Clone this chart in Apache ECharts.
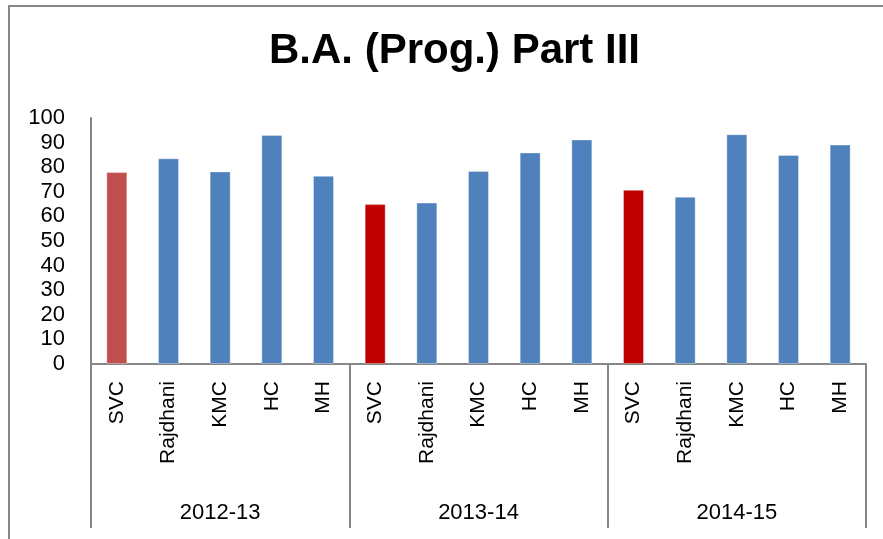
<!DOCTYPE html>
<html>
<head>
<meta charset="utf-8">
<script src="https://cdn.jsdelivr.net/npm/echarts@6/dist/echarts.min.js"></script>
<style>
  html, body { margin: 0; padding: 0; background: #fff; }
  #chart { width: 883px; height: 539px; }
</style>
</head>
<body>
<div id="chart"></div>
<script>
// academic years (group labels) and colleges (per-bar labels)
var years = ['2012-13', '2013-14', '2014-15'];
var colleges = ['SVC', 'Rajdhani', 'KMC', 'HC', 'MH'];

// pass percentage, one list per year
var values2012 = [78, 83.6, 78.3, 93.1, 76.5];
var values2013 = [65, 65.6, 78.5, 86, 91.3];
var values2014 = [70.8, 68, 93.4, 85, 89.2];

// y axis ticks
var yMin = 0;
var yMax = 100;
var yStep = 10;

var blue = '#4f81bd';
var svcColors = ['#c0504d', '#c00000', '#c00000'];

var categories = [];
var barData = [];
var allValues = [values2012, values2013, values2014];
for (var i = 0; i < years.length; i++) {
  for (var j = 0; j < colleges.length; j++) {
    categories.push(colleges[j]);
    barData.push({
      value: allValues[i][j],
      itemStyle: { color: j === 0 ? svcColors[i] : blue }
    });
  }
}

var chart = echarts.init(document.getElementById('chart'));
var axisGray = '#868686';
var font = '"Liberation Sans", Arial, sans-serif';

var option = {
  backgroundColor: '#fff',
  animation: false,
  title: {
    text: 'B.A. (Prog.) Part III',
    left: 264,
    top: 25,
    textStyle: {
      fontFamily: font,
      fontWeight: 'bold',
      fontSize: 42,
      color: '#000'
    }
  },
  graphic: [{
    type: 'rect',
    shape: { x: 9, y: 6, width: 900, height: 560 },
    style: { fill: 'none', stroke: axisGray, lineWidth: 2 },
    silent: true
  }],
  grid: {
    left: 91,
    right: 17,
    top: 118,
    bottom: 175
  },
  xAxis: [{
    type: 'category',
    data: categories,
    position: 'bottom',
    axisLine: { lineStyle: { color: axisGray, width: 2 } },
    axisTick: { show: false },
    axisLabel: {
      rotate: 90,
      margin: 17,
      color: '#000',
      fontFamily: font,
      fontSize: 21,
      interval: 0
    },
    splitLine: { show: false }
  }, {
    type: 'category',
    data: years,
    position: 'bottom',
    offset: 0,
    axisLine: { show: false },
    axisTick: {
      show: true,
      length: 164,
      lineStyle: { color: axisGray, width: 2 }
    },
    axisLabel: {
      margin: 138,
      color: '#000',
      fontFamily: font,
      fontSize: 22
    },
    splitLine: { show: false }
  }],
  yAxis: {
    type: 'value',
    min: yMin,
    max: yMax,
    interval: yStep,
    axisLine: { show: true, lineStyle: { color: axisGray, width: 2 } },
    axisTick: { show: false },
    axisLabel: {
      margin: 26,
      color: '#000',
      fontFamily: font,
      fontSize: 22
    },
    splitLine: { show: false }
  },
  series: [{
    type: 'bar',
    xAxisIndex: 0,
    data: barData,
    barWidth: 21,
    itemStyle: { borderColor: 'rgba(255,255,255,0.35)', borderWidth: 1 }
  }]
};

chart.setOption(option);
</script>
</body>
</html>
